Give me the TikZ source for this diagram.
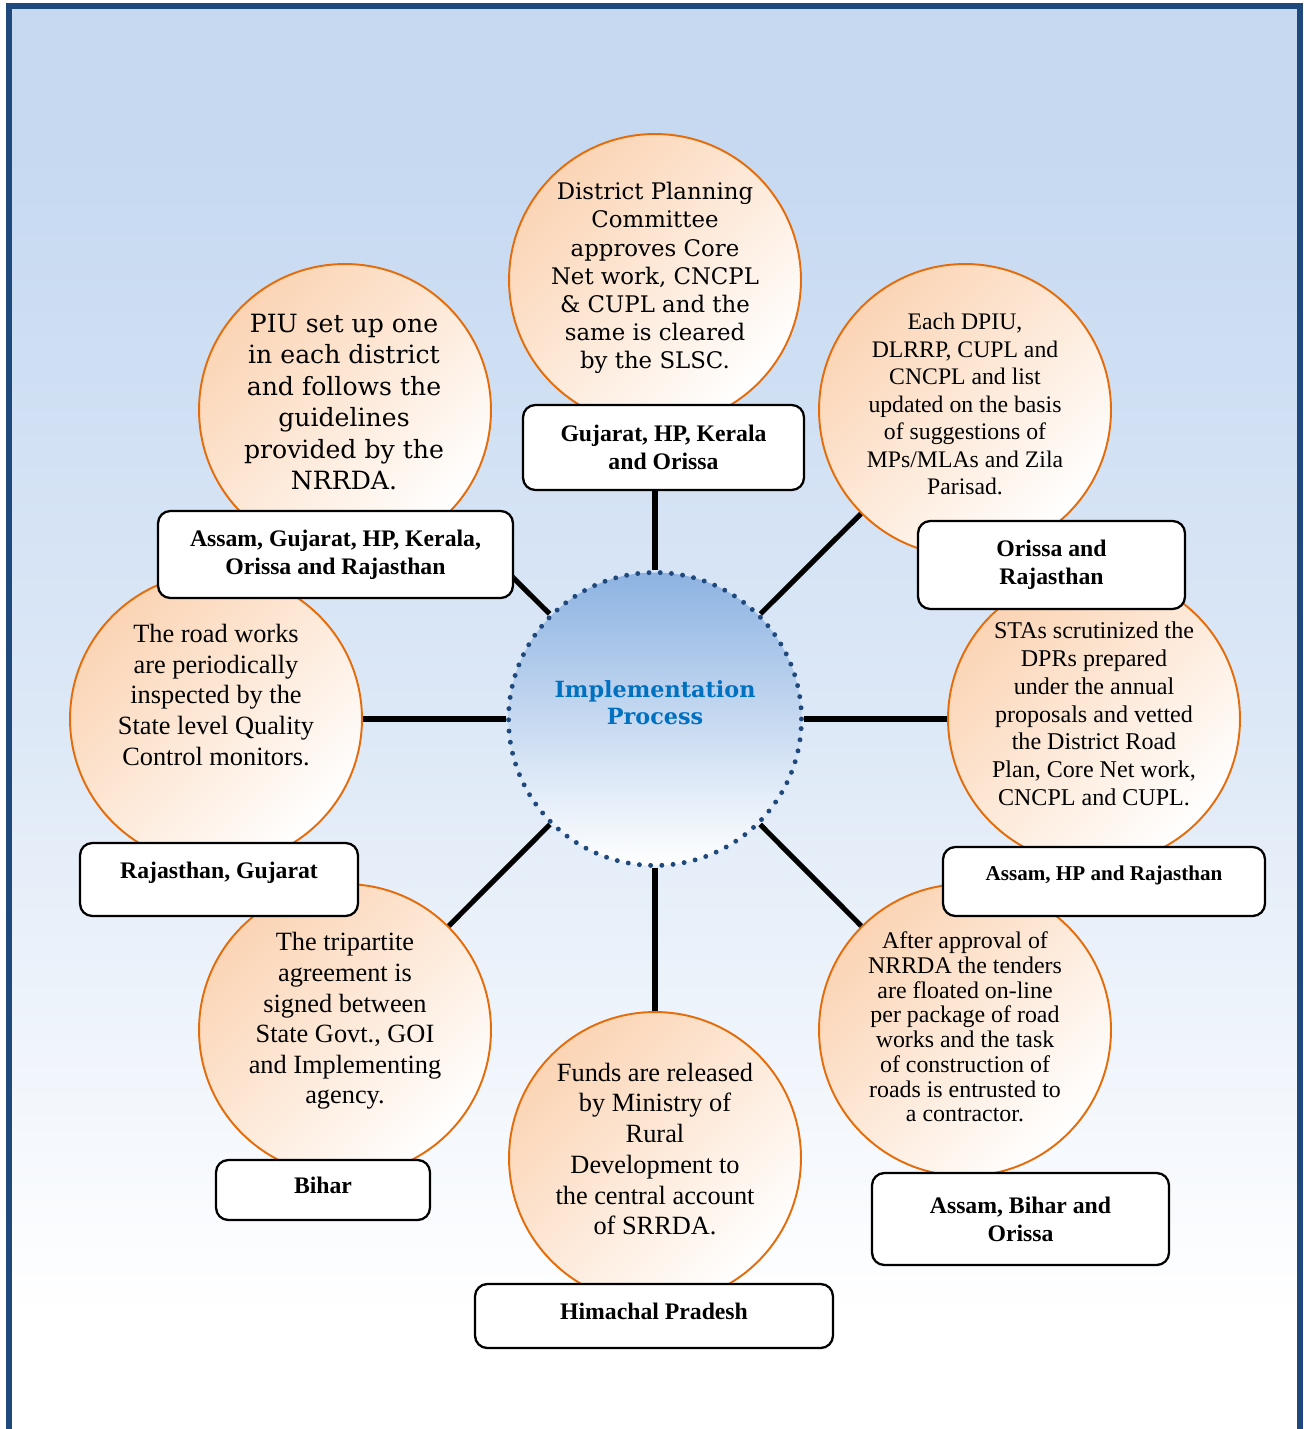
\documentclass[tikz,border=0pt]{standalone}
\usepackage{fontspec}
\setmainfont{Liberation Serif}
\newfontfamily\bookfont{DejaVu Serif}
\usepackage{xcolor}
\definecolor{skyblue}{RGB}{198,217,241}
\definecolor{frameblue}{RGB}{31,73,125}
\definecolor{peach}{RGB}{251,212,180}
\definecolor{stageorange}{RGB}{228,108,10}
\definecolor{hubblue}{RGB}{141,179,226}
\definecolor{titleblue}{RGB}{0,112,192}
% page background, light blue at the top fading to white
\pgfdeclareverticalshading{skyfade}{100bp}{color(0bp)=(white); color(29bp)=(white); color(50bp)=(skyblue!60!white); color(70bp)=(skyblue); color(100bp)=(skyblue)}

\begin{document}
\begin{tikzpicture}[
        x=0.02cm, y=-0.02cm,
        stage/.style={circle, draw=stageorange, line width=1.1pt, top color=peach, bottom color=white, shading angle=45, minimum size=5.84cm, inner sep=0pt},
        stagetext/.style={align=center, inner sep=0pt, text=black},
        hub/.style={circle, draw=frameblue, line width=2.8pt, line cap=round, dash pattern=on 0pt off 6.4pt, top color=hubblue, bottom color=white, minimum size=5.86cm, inner sep=0pt},
        hubtext/.style={align=center, inner sep=0pt, text=titleblue, font=\bookfont\bfseries\fontsize{12.7}{15.4}\selectfont},
        states/.style={rectangle, rounded corners=7pt, draw=black, line width=1.3pt, fill=white, align=center, inner sep=0pt, font=\bfseries\fontsize{13.5}{16}\selectfont},
        link/.style={line width=2.9pt, black}
    ]
    \useasboundingbox (0,0) rectangle (1304,1429);

    % Background and frame
    \fill[shading=skyfade] (9,6) rectangle (1300,1429);
    \draw[frameblue, line width=3.4pt] (9,1460) -- (9,6) -- (1300,6) -- (1300,1460);

    % Stages round the hub
    \node[stage] (dpc) at (655,280) {};
    \node[stage] (piu) at (345,410) {};
    \node[stage] (dpiu) at (965,410) {};
    \node[stage] (quality) at (216,719) {};
    \node[stage] (sta) at (1094,719) {};
    \node[stage] (tripart) at (345,1030) {};
    \node[stage] (tender) at (965,1030) {};
    \node[stage] (funds) at (655,1158) {};

    % Hub
    \node[hub] (hub) at (655,719) {};
    \node[hubtext] (hub-t) at (655,703) {Implementation\\Process};

    % Stage texts
    \node[stagetext, font=\bookfont\fontsize{13}{16}\selectfont] (dpc-t) at (655,278) {District Planning\\Committee\\approves Core\\Net work, CNCPL\\\& CUPL and the\\same is cleared\\by the SLSC.};
    \node[stagetext, font=\bookfont\fontsize{14.3}{17.9}\selectfont] (piu-t) at (344,402) {PIU set up one\\in each district\\and follows the\\guidelines\\provided by the\\NRRDA.};
    \node[stagetext, font=\fontsize{13.5}{15.65}\selectfont] (dpiu-t) at (965,404) {Each DPIU,\\DLRRP, CUPL and\\CNCPL and list\\updated on the basis\\of suggestions of\\MPs/MLAs and Zila\\Parisad.};
    \node[stagetext, font=\fontsize{15}{17.4}\selectfont] (quality-t) at (216,695) {The road works\\are periodically\\inspected by the\\State level Quality\\Control monitors.};
    \node[stagetext, font=\fontsize{13.7}{15.8}\selectfont] (sta-t) at (1094,714) {STAs scrutinized the\\DPRs prepared\\under the annual\\proposals and vetted\\the District Road\\Plan, Core Net work,\\CNCPL and CUPL.};
    \node[stagetext, font=\fontsize{15}{17.4}\selectfont] (tripart-t) at (345,1021) {The tripartite\\agreement is\\signed between\\State Govt., GOI\\and Implementing\\agency.};
    \node[stagetext, font=\fontsize{13.6}{14.1}\selectfont] (tender-t) at (965,1027) {After approval of\\NRRDA the tenders\\are floated on-line\\per package of road\\works and the task\\of construction of\\roads is entrusted to\\a contractor.};
    \node[stagetext, font=\fontsize{15}{17.5}\selectfont] (funds-t) at (655,1149) {Funds are released\\by Ministry of\\Rural\\Development to\\the central account\\of SRRDA.};

    % Spokes
    \draw[link] (hub) -- (dpc);
    \draw[link] (hub) -- (piu);
    \draw[link] (hub) -- (dpiu);
    \draw[link] (hub) -- (quality);
    \draw[link] (hub) -- (sta);
    \draw[link] (hub) -- (tripart);
    \draw[link] (hub) -- (tender);
    \draw[link] (hub) -- (funds);

    % States for each stage
    \node[states, minimum width=5.62cm, minimum height=1.70cm] (dpc-s) at (663.5,447.5) {Gujarat, HP, Kerala\\and Orissa};
    \node[states, minimum width=7.10cm, minimum height=1.74cm] (piu-s) at (335.5,554.5) {Assam, Gujarat, HP, Kerala,\\Orissa and Rajasthan};
    \node[states, minimum width=5.34cm, minimum height=1.76cm] (dpiu-s) at (1051.5,565) {Orissa and\\Rajasthan};
    \node[states, minimum width=5.56cm, minimum height=1.46cm, text height=10pt, text depth=10.7pt] (quality-s) at (219,879.5) {Rajasthan, Gujarat};
    \node[states, minimum width=6.44cm, minimum height=1.38cm, text height=9pt, text depth=9.7pt, font=\bfseries\fontsize{12}{14}\selectfont] (sta-s) at (1104,881.5) {Assam, HP and Rajasthan};
    \node[states, minimum width=4.28cm, minimum height=1.20cm, text height=9.5pt, text depth=5pt] (tripart-s) at (323,1190) {Bihar};
    \node[states, minimum width=5.94cm, minimum height=1.84cm] (tender-s) at (1020.5,1219) {Assam, Bihar and\\Orissa};
    \node[states, minimum width=7.16cm, minimum height=1.28cm, text height=9.5pt, text depth=5pt] (funds-s) at (654,1316) {Himachal Pradesh};

\end{tikzpicture}
\end{document}
